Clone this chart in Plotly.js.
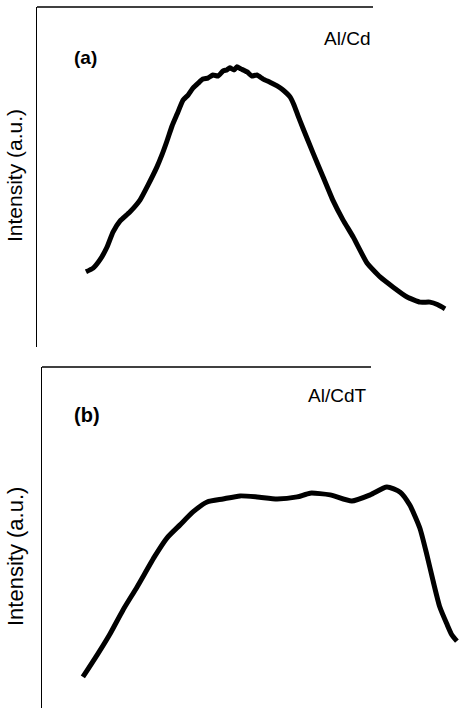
<!DOCTYPE html>
<html>
<head>
<meta charset="utf-8">
<script src="https://cdn.plot.ly/plotly-3.0.1.min.js"></script>
<style>html,body{margin:0;padding:0;background:#fff;}#chart{width:459px;height:708px;}</style>
</head>
<body>
<div id="chart"></div>
<script>
// Panel (a): Al/Cd intensity (arbitrary units)
const xA = [11.6,13.3,14.9,16.6,18.0,19.7,22.0,24.4,26.3,28.4,29.6,30.8,32.0,33.2,34.6,35.8,37.0,38.2,39.3,40.5,41.7,42.9,44.1,45.0,45.7,46.7,47.4,48.3,49.8,50.9,52.1,53.6,55.2,56.9,58.3,60.0,60.9,61.8,63.0,65.4,67.8,70.1,72.5,74.9,78.2,81.3,84.4,87.7,90.8,93.1,95.0,96.7];
const yA = [22.1,23.2,25.6,29.4,33.8,37.1,39.7,43.2,47.6,52.9,56.5,60.6,65.0,68.5,72.6,74.1,76.2,77.6,78.8,79.1,80.0,79.7,81.2,81.5,82.1,81.5,82.4,81.8,80.9,79.7,80.0,78.8,77.9,76.8,75.6,73.5,71.2,68.2,64.4,57.1,50.0,43.2,37.4,32.4,24.7,20.6,17.6,14.7,13.2,13.2,12.4,11.2];

// Panel (b): Al/CdTe intensity (arbitrary units)
const xB = [9.8,13.2,16.3,19.4,22.8,27.1,30.0,33.1,36.2,39.6,43.4,47.5,51.6,56.4,61.2,64.3,69.1,74.3,78.7,82.7,85.9,88.2,90.6,92.3,93.8,95.4,97.1,98.3,99.5];
const yB = [9.1,15.5,21.7,28.7,35.5,44.6,49.9,53.7,57.5,60.4,61.3,62.2,61.9,61.3,61.9,63.0,62.5,60.7,62.5,64.8,63.3,59.5,52.8,44.9,37.2,29.6,24.6,21.4,19.6];

const panelLabels = ["(a)", "(b)"];
const sampleLabels = ["Al/Cd", "Al/CdT"];
const yTitle = "Intensity (a.u.)";

const W = 459, H = 708;
const font = "Liberation Sans, Arial, sans-serif";

const traces = [
  {x: xA, y: yA, xaxis: 'x', yaxis: 'y', mode: 'lines', line: {color: '#000', width: 5, shape: 'spline', smoothing: 0.4}, hoverinfo: 'skip'},
  {x: xB, y: yB, xaxis: 'x2', yaxis: 'y2', mode: 'lines', line: {color: '#000', width: 5, shape: 'spline', smoothing: 0.6}, hoverinfo: 'skip'}
];

const hiddenX = {range: [0, 100], showline: false, showgrid: false, zeroline: false, showticklabels: false, ticks: ''};
const leftY = {range: [0, 100], showline: true, linecolor: '#000', linewidth: 1.5, showgrid: false, zeroline: false, showticklabels: false, ticks: ''};

const layout = {
  width: W, height: H,
  margin: {l: 0, r: 0, t: 0, b: 0},
  paper_bgcolor: '#fff', plot_bgcolor: 'rgba(0,0,0,0)',
  showlegend: false,
  font: {family: font, color: '#000'},
  xaxis: Object.assign({}, hiddenX, {domain: [37/W, 1], anchor: 'y'}),
  yaxis: Object.assign({}, leftY, {domain: [1 - 347/H, 1 - 7/H], anchor: 'x'}),
  xaxis2: Object.assign({}, hiddenX, {domain: [42/W, 1], anchor: 'y2'}),
  yaxis2: Object.assign({}, leftY, {domain: [0, 1 - 367/H], anchor: 'x2'}),
  shapes: [
    {type: 'line', xref: 'paper', yref: 'paper', x0: 37/W, x1: 373/W, y0: 1 - 7/H, y1: 1 - 7/H, line: {color: '#000', width: 1.5}},
    {type: 'line', xref: 'paper', yref: 'paper', x0: 42/W, x1: 371/W, y0: 1 - 367/H, y1: 1 - 367/H, line: {color: '#000', width: 1.5}}
  ],
  annotations: [
    {text: yTitle, xref: 'paper', yref: 'paper', x: 14/W, y: 1 - 176/H, textangle: -90, showarrow: false, font: {size: 21, family: font}, xanchor: 'center', yanchor: 'middle'},
    {text: yTitle, xref: 'paper', yref: 'paper', x: 15/W, y: 1 - 557/H, textangle: -90, showarrow: false, font: {size: 22, family: font}, xanchor: 'center', yanchor: 'middle'},
    {text: '<b>' + panelLabels[0] + '</b>', xref: 'paper', yref: 'paper', x: 85/W, y: 1 - 58/H, showarrow: false, font: {size: 19, family: font}, xanchor: 'center', yanchor: 'middle'},
    {text: '<b>' + panelLabels[1] + '</b>', xref: 'paper', yref: 'paper', x: 87/W, y: 1 - 415/H, showarrow: false, font: {size: 20, family: font}, xanchor: 'center', yanchor: 'middle'},
    {text: sampleLabels[0], xref: 'paper', yref: 'paper', x: 322/W, y: 1 - 39/H, showarrow: false, font: {size: 19, family: font}, xanchor: 'left', yanchor: 'middle'},
    {text: sampleLabels[1], xref: 'paper', yref: 'paper', x: 306/W, y: 1 - 396/H, showarrow: false, font: {size: 19, family: font}, xanchor: 'left', yanchor: 'middle'}
  ]
};

Plotly.newPlot('chart', traces, layout, {staticPlot: true, displayModeBar: false});
</script>
</body>
</html>
